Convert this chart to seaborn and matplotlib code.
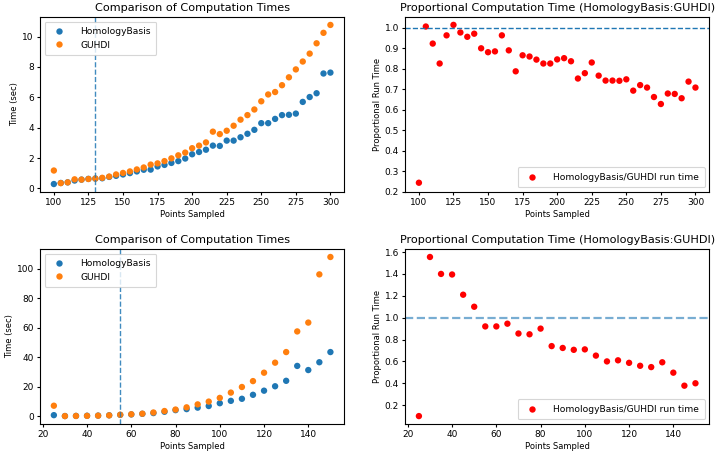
import matplotlib
matplotlib.use("Agg")
import matplotlib.pyplot as plt
import seaborn as sns
import pandas as pd
import numpy as np

# ---- data: top row ----
points_top = list(range(100, 301, 5))
homology_top = [0.29, 0.36, 0.40, 0.52, 0.58, 0.63, 0.65, 0.67, 0.76, 0.83,
                0.92, 1.01, 1.12, 1.23, 1.24, 1.45, 1.55, 1.68, 1.80, 1.97,
                2.25, 2.40, 2.55, 2.82, 2.80, 3.15, 3.15, 3.37, 3.60, 3.86,
                4.30, 4.30, 4.58, 4.83, 4.85, 4.93, 5.70, 6.02, 6.27, 7.57, 7.63]
guhdi_top = [1.18, 0.35, 0.40, 0.60, 0.58, 0.62, 0.65, 0.70, 0.78, 0.92,
             1.02, 1.12, 1.25, 1.38, 1.57, 1.65, 1.80, 1.98, 2.18, 2.36,
             2.65, 2.82, 3.03, 3.74, 3.58, 3.80, 4.13, 4.53, 4.83, 5.20,
             5.74, 6.19, 6.35, 6.80, 7.32, 7.84, 8.36, 8.88, 9.56, 10.25, 10.77]
ratio_top = [0.245, 1.005, 0.922, 0.825, 0.962, 1.013, 0.976, 0.955, 0.970, 0.899,
             0.880, 0.884, 0.962, 0.889, 0.787, 0.865, 0.859, 0.844, 0.825, 0.825,
             0.845, 0.851, 0.836, 0.752, 0.778, 0.830, 0.766, 0.742, 0.742, 0.741,
             0.748, 0.693, 0.720, 0.708, 0.662, 0.628, 0.679, 0.677, 0.656, 0.737, 0.708]
vline_top = 130

# ---- data: bottom row ----
points_bot = list(range(25, 151, 5))
homology_bot = [0.7, 0.1, 0.2, 0.3, 0.4, 0.6, 0.9, 1.2, 1.6, 2.1, 3.0, 4.1, 4.8,
                5.8, 6.9, 8.8, 10.4, 11.8, 14.5, 17.3, 20.3, 24.0, 34.1, 31.3, 36.6, 43.5]
guhdi_bot = [7.1, 0.07, 0.15, 0.22, 0.35, 0.55, 0.98, 1.3, 1.7, 2.5, 3.5, 4.5, 6.0,
             8.0, 9.9, 12.4, 16.0, 19.8, 23.8, 29.5, 36.3, 43.5, 57.5, 63.5, 96.2, 108.0]
ratio_bot = [0.10, 1.555, 1.40, 1.395, 1.21, 1.10, 0.92, 0.92, 0.945, 0.855, 0.848, 0.90,
             0.74, 0.723, 0.706, 0.71, 0.653, 0.60, 0.61, 0.587, 0.56, 0.548, 0.592,
             0.497, 0.378, 0.40]
vline_bot = 55

plt.rcParams.update({
    "font.family": ["DejaVu Sans"],
    "xtick.labelsize": 6.5,
    "ytick.labelsize": 6.5,
    "axes.labelsize": 6,
    "axes.titlesize": 8.1,
    "legend.fontsize": 6.6,
    "axes.linewidth": 0.8,
    "xtick.major.size": 2.5,
    "ytick.major.size": 2.5,
    "xtick.major.pad": 2,
    "ytick.major.pad": 2,
    "axes.labelpad": 2,
    "axes.titlepad": 4,
})

fig, axes = plt.subplots(2, 2, figsize=(7.15, 4.54), dpi=100)
fig.subplots_adjust(left=0.056, right=0.992, top=0.9626, bottom=0.066,
                    wspace=0.2, hspace=0.326)

def comparison(ax, pts, hb, gu, vx):
    df = pd.DataFrame({
        "Points Sampled": pts * 2,
        "Time (sec)": hb + gu,
        "Method": ["HomologyBasis"] * len(pts) + ["GUHDI"] * len(pts),
    })
    sns.scatterplot(data=df, x="Points Sampled", y="Time (sec)", hue="Method",
                    palette=["#1f77b4", "#ff7f0e"], s=21, linewidth=0, ax=ax)
    ax.axvline(vx, color="#1f77b4", linestyle="--", linewidth=1, alpha=0.85)
    ax.set_title("Comparison of Computation Times")
    leg = ax.legend(loc="upper left", handletextpad=1.3,
                    borderpad=0.6, labelspacing=0.5)
    leg.get_frame().set_linewidth(0.8)

def proportion(ax, pts, ratio, hline_alpha, hline_lw):
    df = pd.DataFrame({"Points Sampled": pts, "Proportional Run Time": ratio,
                       "label": ["HomologyBasis/GUHDI run time"] * len(pts)})
    sns.scatterplot(data=df, x="Points Sampled", y="Proportional Run Time",
                    hue="label", palette=["red"], s=21, linewidth=0, ax=ax)
    ax.axhline(1.0, color="#1f77b4", linestyle="--", linewidth=hline_lw, alpha=hline_alpha)
    ax.set_title("Proportional Computation Time (HomologyBasis:GUHDI)")
    leg = ax.legend(loc="lower right", handletextpad=1.3, borderpad=0.6)
    leg.get_frame().set_linewidth(0.8)

comparison(axes[0, 0], points_top, homology_top, guhdi_top, vline_top)
proportion(axes[0, 1], points_top, ratio_top, 1.0, 1.0)
comparison(axes[1, 0], points_bot, homology_bot, guhdi_bot, vline_bot)
proportion(axes[1, 1], points_bot, ratio_bot, 0.6, 1.6)

axes[0, 0].set_xticks(range(100, 301, 25))
axes[0, 1].set_xticks(range(100, 301, 25))
axes[0, 1].set_yticks(np.arange(0.2, 1.01, 0.1))
axes[1, 0].set_xticks(range(20, 141, 20))
axes[1, 0].set_yticks(range(0, 101, 20))
axes[1, 1].set_xticks(range(20, 141, 20))
axes[1, 1].set_yticks(np.arange(0.2, 1.61, 0.2))

fig.savefig("out.png", dpi=100)
